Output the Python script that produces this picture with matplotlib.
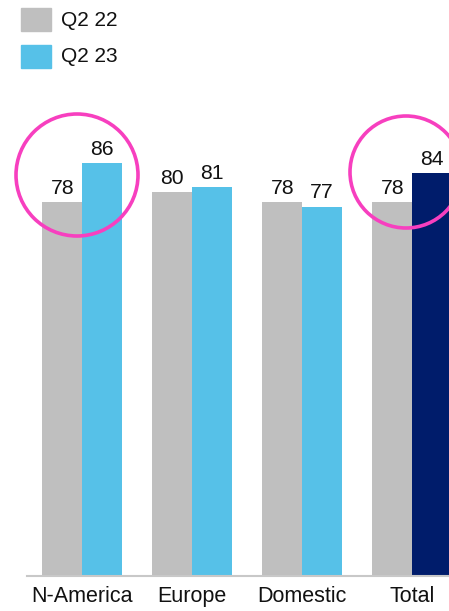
import matplotlib
matplotlib.use("Agg")
import matplotlib.pyplot as plt
from matplotlib.patches import Rectangle, Ellipse
import numpy as np

plt.rcParams['font.family'] = ['Liberation Sans', 'DejaVu Sans']

categories = ["N-America", "Europe", "Domestic", "Total"]
q2_22 = [78, 80, 78, 78]
q2_23 = [86, 81, 77, 84]
series_labels = ["Q2 22", "Q2 23"]

grey = "#BFBFBF"
blue = "#56C1E8"
navy = "#001C6B"
pink = "#F73FBF"

W, H = 449, 611
fig = plt.figure(figsize=(W / 100, H / 100), dpi=100)
ax = fig.add_axes([27 / W, 35 / H, 422 / W, 476 / H])

x = np.arange(len(categories))
bw = 0.36
b1 = ax.bar(x - bw / 2, q2_22, bw, color=grey)
colors_23 = [blue, blue, blue, navy]
b2 = ax.bar(x + bw / 2, q2_23, bw, color=colors_23)

for bars, vals in ((b1, q2_22), (b2, q2_23)):
    for rect, v in zip(bars, vals):
        ax.annotate(f"{v}", (rect.get_x() + rect.get_width() / 2, v),
                    xytext=(0, 5.8), textcoords="offset points",
                    ha="center", va="baseline", fontsize=15.2, color="#111111")

ax.set_xlim(-0.5, 3.336)
ax.set_ylim(0, 99.2)
for s in ("top", "right", "left"):
    ax.spines[s].set_visible(False)
ax.spines["bottom"].set_color("#C8C8C8")
ax.spines["bottom"].set_linewidth(1.5)
ax.set_yticks([])
ax.set_xticks(x)
ax.set_xticklabels(categories, fontsize=15.5, color="#111111")
ax.tick_params(axis="x", length=0, pad=7)

# legend
for i, (lab, col) in enumerate(zip(series_labels, [grey, blue])):
    top = 8 + i * 37
    fig.patches.append(Rectangle((21 / W, 1 - (top + 23) / H), 30 / W, 23 / H,
                                 transform=fig.transFigure, color=col))
    fig.text(61 / W, 1 - (top + 12) / H, lab, fontsize=15, va="center",
             ha="left", color="#111111")

# highlight rings
for cx, cy, r in ((77, 175, 61), (406, 172, 56)):
    fig.patches.append(Ellipse((cx / W, 1 - cy / H), 2 * r / W, 2 * r / H,
                               transform=fig.transFigure, fill=False,
                               edgecolor=pink, linewidth=2.6, zorder=5))

fig.savefig("out.png", dpi=100)
